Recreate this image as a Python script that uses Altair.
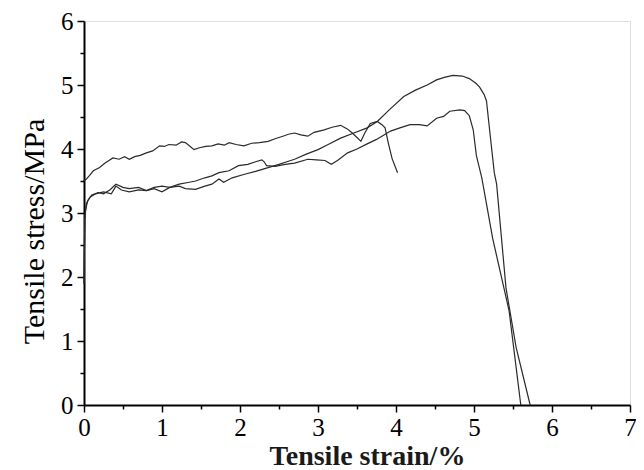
import altair as alt
import pandas as pd

# Curve A (top early curve, breaks near 4 %)
A_strain = [0.0, 0.03, 0.08, 0.12, 0.2, 0.27, 0.32, 0.37, 0.45, 0.52, 0.58, 0.65, 0.72, 0.8, 0.88,
            0.97, 1.03, 1.09, 1.18, 1.25, 1.30, 1.35, 1.41, 1.48, 1.56, 1.64, 1.72, 1.80, 1.86,
            1.95, 2.05, 2.15, 2.25, 2.36, 2.45, 2.55, 2.62, 2.70, 2.78, 2.87, 2.95, 3.08, 3.18,
            3.29, 3.38, 3.44, 3.50, 3.55, 3.60, 3.67, 3.76, 3.82, 3.86, 3.90, 3.95, 4.02]
A_stress = [3.50, 3.53, 3.60, 3.66, 3.71, 3.78, 3.82, 3.86, 3.84, 3.88, 3.84, 3.88, 3.90, 3.94, 3.97,
            4.05, 4.04, 4.07, 4.06, 4.11, 4.10, 4.05, 3.99, 4.02, 4.04, 4.05, 4.08, 4.06, 4.10,
            4.07, 4.05, 4.09, 4.10, 4.12, 4.16, 4.20, 4.23, 4.25, 4.22, 4.20, 4.26, 4.30, 4.34,
            4.37, 4.31, 4.25, 4.18, 4.12, 4.25, 4.40, 4.43, 4.38, 4.33, 4.10, 3.85, 3.63]

# Curve B (highest peak ~5.15 MPa)
B_strain = [0.0, 0.01, 0.03, 0.08, 0.15, 0.25, 0.35, 0.41, 0.48, 0.58, 0.7, 0.8, 0.9, 1.0, 1.1,
            1.22, 1.30, 1.43, 1.55, 1.64, 1.73, 1.79, 1.90, 2.07, 2.2, 2.36, 2.5, 2.6, 2.70,
            2.85, 3.0, 3.13, 3.29, 3.46, 3.63, 3.76, 3.92, 4.10, 4.25, 4.40, 4.52, 4.62, 4.73,
            4.85, 4.94, 5.02, 5.07, 5.13, 5.16, 5.20, 5.26, 5.29, 5.41, 5.54, 5.72]
B_stress = [1.9, 2.9, 3.15, 3.25, 3.30, 3.33, 3.30, 3.42, 3.36, 3.33, 3.36, 3.35, 3.38, 3.33, 3.40,
            3.42, 3.38, 3.37, 3.42, 3.45, 3.53, 3.48, 3.55, 3.61, 3.65, 3.71, 3.76, 3.80, 3.84,
            3.92, 3.99, 4.07, 4.17, 4.25, 4.33, 4.43, 4.62, 4.82, 4.92, 5.00, 5.08, 5.12, 5.15,
            5.14, 5.10, 5.03, 4.97, 4.85, 4.75, 4.30, 3.63, 3.45, 1.83, 0.90, 0.0]

# Curve C (peak ~4.6 MPa)
C_strain = [0.0, 0.01, 0.02, 0.05, 0.1, 0.18, 0.25, 0.33, 0.41, 0.50, 0.58, 0.7, 0.8, 0.9, 1.0,
            1.1, 1.22, 1.35, 1.43, 1.55, 1.64, 1.73, 1.86, 1.98, 2.1, 2.2, 2.28, 2.31, 2.34,
            2.45, 2.58, 2.7, 2.87, 2.98, 3.09, 3.17, 3.25, 3.38, 3.50, 3.63, 3.75, 3.93, 4.05,
            4.18, 4.30, 4.40, 4.52, 4.61, 4.69, 4.82, 4.88, 4.94, 4.99, 5.03, 5.10, 5.24, 5.45, 5.60]
C_stress = [1.9, 2.9, 3.05, 3.20, 3.28, 3.32, 3.30, 3.36, 3.45, 3.40, 3.38, 3.40, 3.35, 3.40, 3.42,
            3.40, 3.45, 3.48, 3.50, 3.55, 3.58, 3.63, 3.66, 3.74, 3.76, 3.80, 3.83, 3.80, 3.74,
            3.73, 3.76, 3.78, 3.84, 3.83, 3.82, 3.76, 3.82, 3.94, 4.00, 4.08, 4.15, 4.28, 4.33,
            4.38, 4.38, 4.36, 4.48, 4.51, 4.59, 4.61, 4.60, 4.52, 4.30, 3.90, 3.55, 2.60, 1.47, 0.0]

x_major = [0, 1, 2, 3, 4, 5, 6, 7]
y_major = [0, 1, 2, 3, 4, 5, 6]
x_minor = [0.5, 1.5, 2.5, 3.5, 4.5, 5.5, 6.5]
y_minor = [0.5, 1.5, 2.5, 3.5, 4.5, 5.5]

rows = []
for name, xs, ys in [("A", A_strain, A_stress), ("B", B_strain, B_stress), ("C", C_strain, C_stress)]:
    for i, (x, y) in enumerate(zip(xs, ys)):
        rows.append({"sample": name, "strain": x, "stress": y, "idx": i})
df = pd.DataFrame(rows)

FONT = "Liberation Serif"

xscale = alt.Scale(domain=[0, 7], nice=False, zero=False)
yscale = alt.Scale(domain=[0, 6], nice=False, zero=False)

lines = alt.Chart(df).mark_line(strokeWidth=1.2, color="#2a2a2a").encode(
    x=alt.X("strain:Q", scale=xscale,
            axis=alt.Axis(values=x_major, title="Tensile strain/%", orient="bottom",
                          tickSize=7, tickWidth=1.5, tickColor="black",
                          domainColor="black", domainWidth=2,
                          labelFont=FONT, labelFontSize=25, labelColor="black", labelPadding=3,
                          titleFont=FONT, titleFontSize=28, titleFontWeight="bold", titleColor="#1a1a1a",
                          titleX=283, titleY=59, titleBaseline="alphabetic", titleAlign="center",
                          grid=False, labelFlush=False)),
    y=alt.Y("stress:Q", scale=yscale,
            axis=alt.Axis(values=y_major, title="Tensile stress/MPa", orient="left",
                          tickSize=7, tickWidth=1.5, tickColor="black",
                          domainColor="black", domainWidth=2,
                          labelFont=FONT, labelFontSize=25, labelColor="black", labelPadding=4,
                          titleFont=FONT, titleFontSize=30, titleFontWeight="normal", titleColor="black",
                          titleX=-41, titleY=210, titleAngle=-90, titleBaseline="alphabetic",
                          titleAlign="center", grid=False, labelFlush=False)),
    detail="sample:N",
    order="idx:Q",
)

minor = alt.Chart(df).mark_line(opacity=0).encode(
    x=alt.X("strain:Q", scale=xscale,
            axis=alt.Axis(values=x_minor, title=None, orient="bottom", labels=False,
                          tickSize=4, tickWidth=1.5, tickColor="black", domain=False, grid=False)),
    y=alt.Y("stress:Q", scale=yscale,
            axis=alt.Axis(values=y_minor, title=None, orient="left", labels=False,
                          tickSize=4, tickWidth=1.5, tickColor="black", domain=False, grid=False)),
    detail="sample:N",
)

chart = alt.layer(lines, minor).resolve_axis(x="independent", y="independent").properties(
    width=546, height=384,
    autosize=alt.AutoSizeParams(type="none"),
    padding={"left": 76, "top": 13, "right": 6, "bottom": 64},
).configure_view(stroke=None, strokeWidth=0).configure(background="white")

chart.save("out.html", embed_options={"renderer": "svg", "actions": False})
